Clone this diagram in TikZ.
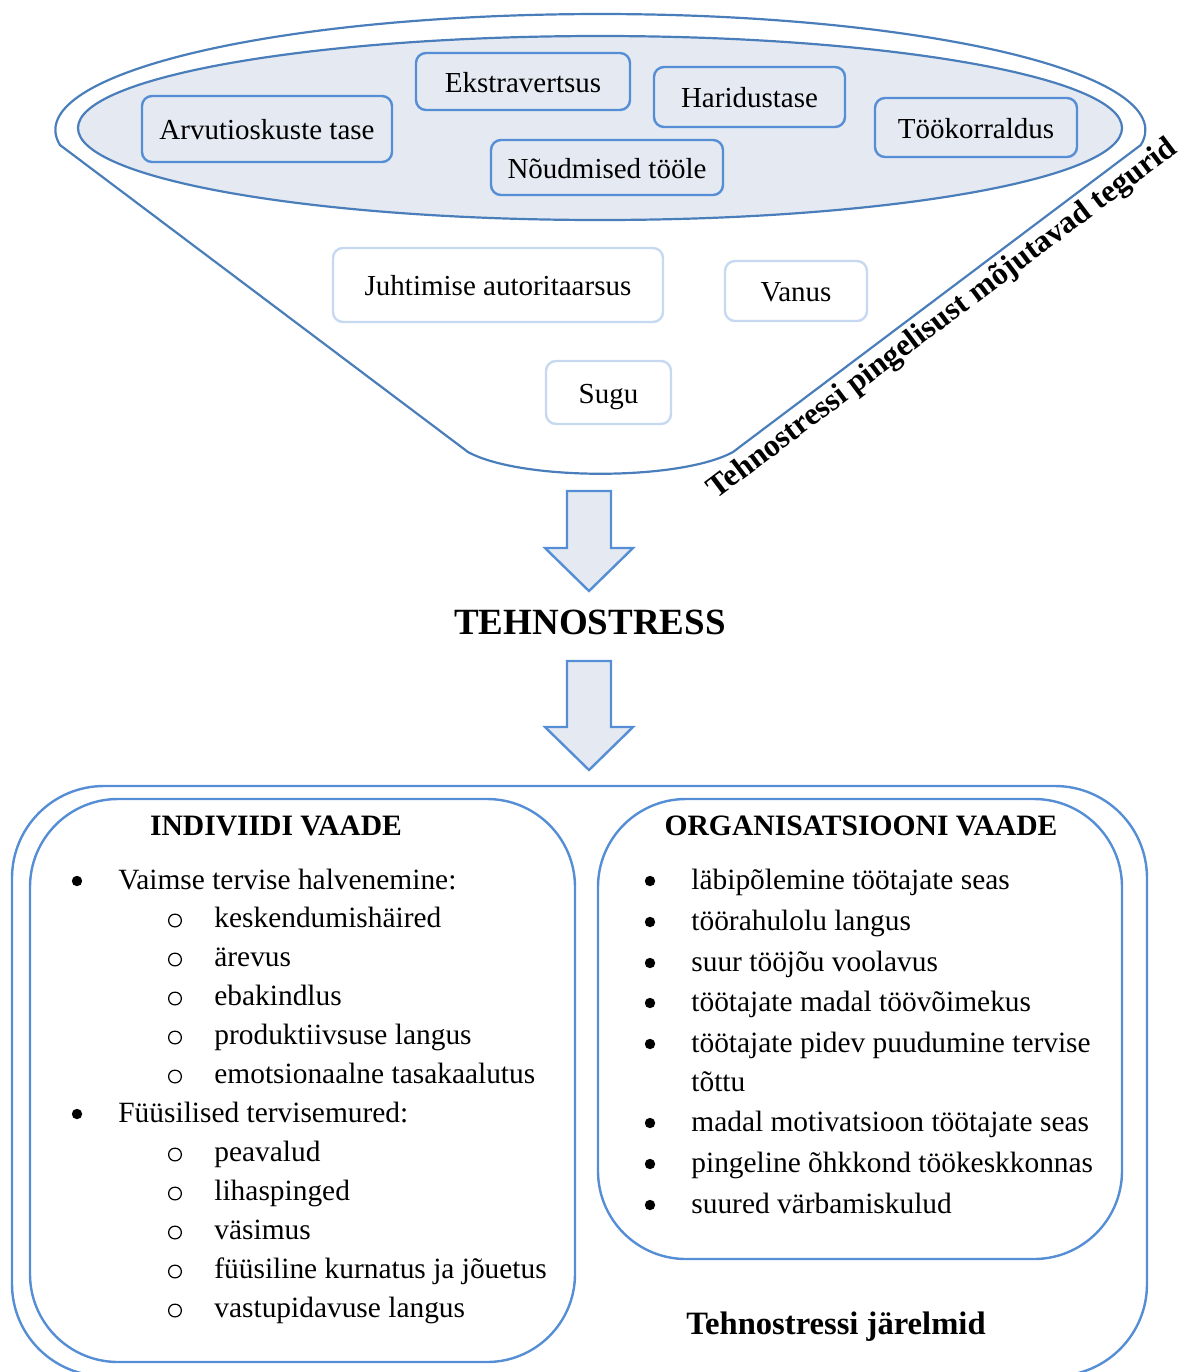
\documentclass[tikz,border=0pt]{standalone}
\usepackage{fontspec}
\setmainfont{Liberation Serif}
\usepackage{tikz}
\usetikzlibrary{positioning}

\definecolor{funnelblue}{HTML}{4A7EBB}
\definecolor{boxblue}{HTML}{558ED5}
\definecolor{paleblue}{HTML}{C6D9F1}
\definecolor{fillblue}{HTML}{E4E9F2}

\begin{document}
\begin{tikzpicture}[
    x=0.5pt, y=-0.5pt,
    font=\fontsize{14.7}{19.5}\selectfont,
    factor/.style={rectangle, rounded corners=5pt, draw=boxblue, line width=1.2pt, fill=fillblue, inner sep=0pt, text height=10.5pt, text depth=0pt, font=\fontsize{14.5}{19.5}\selectfont},
    weakfactor/.style={factor, draw=paleblue, fill=white},
    panel/.style={rectangle, draw=boxblue, line width=1.2pt, rounded corners=44pt, inner sep=0pt},
    blockarrow/.style={draw=boxblue, line width=1.2pt, fill=fillblue, line join=miter},
    item/.style={anchor=base west, inner sep=0pt},
    bulletdot/.style={circle, fill=black, inner sep=0pt, minimum size=5.2pt},
    ringdot/.style={circle, draw=black, line width=0.6pt, inner sep=0pt, minimum size=6.4pt},
    heading/.style={font=\fontsize{14.8}{19.5}\selectfont\bfseries}
]
\useasboundingbox (0,0) rectangle (1184,1372);

% funnel
\draw[funnelblue, line width=1.1pt, line join=round]
    (60,145) arc[start angle=172.57, end angle=367.43, x radius=545, y radius=116]
    -- (733,452) .. controls (680,481) and (521,481) .. (468,452) -- cycle;
\draw[funnelblue, line width=1.1pt, fill=fillblue] (600,128) ellipse[x radius=522, y radius=92];

% factors
\node[factor, minimum width=125pt, minimum height=33pt] (arvutioskus) at (267,129) {Arvutioskuste tase};
\node[factor, minimum width=107pt, minimum height=28.5pt] (ekstra) at (523,81.5) {Ekstravertsus};
\node[factor, minimum width=95.5pt, minimum height=30pt] (haridus) at (749.5,97) {Haridustase};
\node[factor, minimum width=101pt, minimum height=29.5pt] (korraldus) at (976,127.5) {Töökorraldus};
\node[factor, minimum width=116pt, minimum height=27.5pt] (noudmised) at (607,167.5) {Nõudmised tööle};
\node[weakfactor, minimum width=165pt, minimum height=37pt] (juhtimine) at (498,285) {Juhtimise autoritaarsus};
\node[weakfactor, minimum width=71pt, minimum height=30pt] (vanus) at (796,291) {Vanus};
\node[weakfactor, minimum width=62.5pt, minimum height=31.5pt] (sugu) at (608.5,392.5) {Sugu};

\node[heading, font=\fontsize{15.8}{19.5}\selectfont\bfseries, rotate=37, anchor=base west, inner sep=0pt] (teguridlabel) at (716,500) {Tehnostressi pingelisust mõjutavad tegurid};

% arrows and centre
\draw[blockarrow] (567,491) -- (611,491) -- (611,548) -- (633,548) -- (589,591) -- (545,548) -- (567,548) -- cycle;
\node[heading, font=\fontsize{18.5}{22}\selectfont\bfseries] (tehnostress) at (590,622) {TEHNOSTRESS};
\draw[blockarrow] (567,661) -- (611,661) -- (611,727) -- (633,727) -- (589,770) -- (545,727) -- (567,727) -- cycle;

% consequences
\node[panel, rounded corners=46pt, minimum width=567.5pt, minimum height=295pt] (jarelmid) at (579.5,1081) {};
\node[panel, minimum width=272.5pt, minimum height=281.5pt] (indiviid) at (302.5,1080.5) {};
\node[panel, minimum width=262pt, minimum height=230pt] (organisatsioon) at (860,1029) {};

\node[heading] (indivtitle) at (276,826) {INDIVIIDI VAADE};
\node[heading] (orgtitle) at (861,826) {ORGANISATSIOONI VAADE};
\node[heading, font=\fontsize{16.3}{19.5}\selectfont\bfseries, anchor=base] (jareltitle) at (836,1334) {Tehnostressi järelmid};

% individual view
\foreach \y/\txt [count=\i] in {889/Vaimse tervise halvenemine:, 1122/Füüsilised tervisemured:} {
    \node[bulletdot] (ib\i) at (77,\y-8) {};
    \node[item] (it\i) at (118,\y) {\txt};
}
\foreach \y/\txt [count=\i] in {927/keskendumishäired, 966/ärevus, 1005/ebakindlus,
    1044/produktiivsuse langus, 1083/emotsionaalne tasakaalutus, 1161/peavalud,
    1200/lihaspinged, 1239/väsimus, 1278/füüsiline kurnatus ja jõuetus,
    1317/vastupidavuse langus} {
    \node[ringdot] (sb\i) at (175,\y-6.5) {};
    \node[item] (st\i) at (214,\y) {\txt};
}

% organisation view
\foreach \y/\txt [count=\i] in {889/läbipõlemine töötajate seas, 930/töörahulolu langus,
    971/suur tööjõu voolavus, 1011/töötajate madal töövõimekus,
    1052/töötajate pidev puudumine tervise, 1131/madal motivatsioon töötajate seas,
    1172/pingeline õhkkond töökeskkonnas, 1213/suured värbamiskulud} {
    \node[bulletdot] (ob\i) at (650,\y-8) {};
    \node[item] (ot\i) at (691,\y) {\txt};
}
\node[item] (ottail) at (691,1091) {tõttu};
\end{tikzpicture}
\end{document}
